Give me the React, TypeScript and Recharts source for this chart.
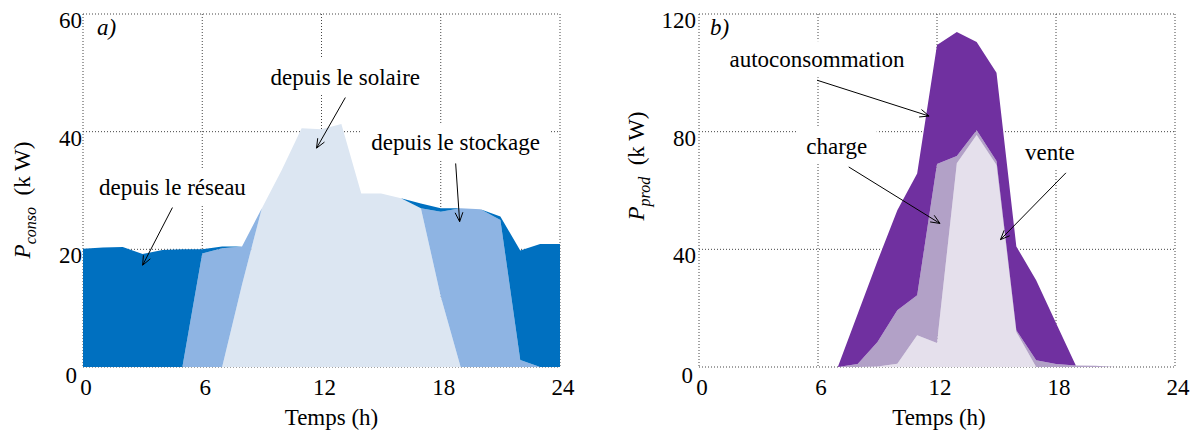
import { AreaChart, Area, XAxis, YAxis, CartesianGrid, ReferenceLine, ReferenceDot, Label } from 'recharts';

const FONT = "'Liberation Serif', 'Times New Roman', serif";

// hours of the day
const hours = [0, 1, 2, 3, 4, 5, 6, 7, 8, 9, 10, 11, 12, 13, 14, 15, 16, 17, 18, 19, 20, 21, 22, 23, 24];

// a) consumption (kW), stacked bottom -> top
const fromSolar = [0, 0, 0, 0, 0, 0, 0, 0, 14, 27, 33.5, 40.6, 40.4, 41.3, 29.5, 29.5, 28.7, 27, 12, 0, 0, 0, 0, 0, 0];
const fromStorage = [0, 0, 0, 0, 0, 0, 19.3, 20.2, 6.5, 0, 0, 0, 0, 0, 0, 0, 0, 0, 14.4, 27, 26.8, 25, 1.2, 0, 0];
const fromGrid = [20.1, 20.3, 20.4, 19.2, 19.9, 20, 0.7, 0.3, 0, 0, 0, 0, 0, 0, 0, 0, 0, 0.8, 0.6, 0, 0, 0.6, 18.6, 20.9, 20.9];

// b) production (kW), stacked bottom -> top
const selling = [0, 0, 0, 0, 0, 0, 0, 0, 0, 0.2, 1.1, 10.8, 8.2, 69.3, 78.9, 68.7, 11.9, 0, 0, 0, 0, 0, 0, 0, 0];
const charging = [0, 0, 0, 0, 0, 0, 0, 0, 1, 8.3, 18.2, 13.6, 60.8, 2.4, 1.6, 1.3, 0.6, 2.3, 1, 0.5, 0.4, 0, 0, 0, 0];
const selfUse = [0, 0, 0, 0, 0, 0, 0, 0, 17, 27.5, 34, 41.4, 40.5, 42.2, 30, 30, 28.5, 27.2, 14, 0, 0, 0, 0, 0, 0];

const xTicks = [0, 6, 12, 18, 24];
const consoTicks = [0, 20, 40, 60];
const prodTicks = [0, 40, 80, 120];

const consoData = hours.map((t, i) => ({ t, solaire: fromSolar[i], stockage: fromStorage[i], reseau: fromGrid[i] }));
const prodData = hours.map((t, i) => ({ t, vente: selling[i], charge: charging[i], auto: selfUse[i] }));

type Note = { text: string; from: [number, number]; to: [number, number]; dx: number; boxW: number };

const consoNotes: Note[] = [
  { text: 'depuis le réseau', from: [4.5, 27.1], to: [3.0, 17.3], dx: 0, boxW: 166 },
  { text: 'depuis le solaire', from: [13.2, 45.8], to: [11.75, 37.2], dx: 0, boxW: 172 },
  { text: 'depuis le stockage', from: [18.75, 34.6], to: [18.95, 24.7], dx: 0, boxW: 190 },
];

const prodNotes: Note[] = [
  { text: 'autoconsommation', from: [5.95, 97.5], to: [11.6, 85.3], dx: 0, boxW: 196 },
  { text: 'charge', from: [7.55, 68], to: [12.15, 48.8], dx: -12, boxW: 80 },
  { text: 'vente', from: [18.5, 66], to: [15.2, 43.3], dx: -16, boxW: 70 },
];

const arrowShape = (note: Note) => (p: any) => {
  const { x1, y1, x2, y2 } = p;
  const ang = Math.atan2(y2 - y1, x2 - x1);
  const L = 10;
  const a = 0.4;
  const hx1 = x2 - L * Math.cos(ang - a);
  const hy1 = y2 - L * Math.sin(ang - a);
  const hx2 = x2 - L * Math.cos(ang + a);
  const hy2 = y2 - L * Math.sin(ang + a);
  const tx = x1 + note.dx;
  const ty = y1 - 13;
  return (
    <g>
      <rect x={tx - note.boxW / 2} y={ty - 26} width={note.boxW} height={36} fill="#fff" />
      <text x={tx} y={ty} textAnchor="middle" fontSize={23} fontFamily={FONT} fill="#000">
        {note.text}
      </text>
      <line x1={x1} y1={y1} x2={x2} y2={y2} stroke="#000" strokeWidth={1} />
      <polyline points={`${hx1},${hy1} ${x2},${y2} ${hx2},${hy2}`} fill="none" stroke="#000" strokeWidth={1} />
    </g>
  );
};

const XTick = (p: any) => (
  <text x={p.x + 3} y={p.y + 28} textAnchor="middle" fontSize={23} fontFamily={FONT} fill="#000">
    {p.payload.value}
  </text>
);

const makeYTick = (gap: number) => (p: any) => {
  const zero = p.payload.value === 0;
  return (
    <text x={p.x - (zero ? 6 : gap)} y={p.y + (zero ? 16 : 14)} textAnchor="end" fontSize={23} fontFamily={FONT} fill="#000">
      {p.payload.value}
    </text>
  );
};

const xTitle = (shift: number) => (p: any) => {
  const vb = p.viewBox || { x: 0, width: 0 };
  return (
    <text x={vb.x + vb.width / 2 + shift} y={425} textAnchor="middle" fontSize={23} fontFamily={FONT} fill="#000">
      Temps (h)
    </text>
  );
};

const yTitle = (sub: string, cx: number, cy: number) => () => (
  <text
    x={cx}
    y={cy}
    transform={`rotate(-90 ${cx} ${cy})`}
    textAnchor="middle"
    fontSize={23}
    fontFamily={FONT}
    fill="#000"
  >
    <tspan fontStyle="italic">P</tspan>
    <tspan fontStyle="italic" fontSize={16} dy={6}>{sub}</tspan>
    <tspan dy={-6} xmlSpace="preserve">{'  (k W)'}</tspan>
  </text>
);

const panelTag = (tag: string, dx: number) => (p: any) => (
  <text x={p.cx + dx} y={p.cy + 21} fontSize={23} fontStyle="italic" fontFamily={FONT} fill="#000">
    {tag}
  </text>
);

const gridProps = { stroke: '#444', strokeDasharray: '1 2' };

export default function App() {
  return (
    <div style={{ position: 'absolute', left: 0, top: 0, width: 1199, height: 432, background: '#fff' }}>
      <div style={{ position: 'absolute', left: 0, top: 0 }}>
        <AreaChart width={600} height={432} data={consoData} margin={{ top: 14, right: 40, bottom: 0, left: 0 }}>
          <CartesianGrid {...gridProps} />
          <XAxis
            type="number"
            dataKey="t"
            domain={[0, 24]}
            ticks={xTicks}
            height={65}
            axisLine={false}
            tickLine={false}
            tickSize={0}
            tickMargin={0}
            tick={XTick}
            interval={0}
          >
            <Label content={xTitle(10)} />
          </XAxis>
          <YAxis
            type="number"
            domain={[0, 60]}
            ticks={consoTicks}
            width={83}
            axisLine={false}
            tickLine={false}
            tickSize={0}
            tickMargin={0}
            tick={makeYTick(1)}
            interval={0}
          >
            <Label content={yTitle('conso', 30, 200)} />
          </YAxis>
          <Area type="linear" dataKey="solaire" stackId="c" stroke="none" fill="#DCE6F2" fillOpacity={1} isAnimationActive={false} />
          <Area type="linear" dataKey="stockage" stackId="c" stroke="none" fill="#8EB4E3" fillOpacity={1} isAnimationActive={false} />
          <Area type="linear" dataKey="reseau" stackId="c" stroke="none" fill="#0070C0" fillOpacity={1} isAnimationActive={false} />
          {consoNotes.map((n) => (
            <ReferenceLine
              key={n.text}
              segment={[{ x: n.from[0], y: n.from[1] }, { x: n.to[0], y: n.to[1] }]}
              shape={arrowShape(n)}
            />
          ))}
          <ReferenceDot x={0} y={60} r={0} shape={panelTag('a)', 14)} />
        </AreaChart>
      </div>
      <div style={{ position: 'absolute', left: 600, top: 0 }}>
        <AreaChart width={599} height={432} data={prodData} margin={{ top: 14, right: 24, bottom: 0, left: 0 }}>
          <CartesianGrid {...gridProps} />
          <XAxis
            type="number"
            dataKey="t"
            domain={[0, 24]}
            ticks={xTicks}
            height={65}
            axisLine={false}
            tickLine={false}
            tickSize={0}
            tickMargin={0}
            tick={XTick}
            interval={0}
          >
            <Label content={xTitle(2)} />
          </XAxis>
          <YAxis
            type="number"
            domain={[0, 120]}
            ticks={prodTicks}
            width={99}
            axisLine={false}
            tickLine={false}
            tickSize={0}
            tickMargin={0}
            tick={makeYTick(3)}
            interval={0}
          >
            <Label content={yTitle('prod', 44, 166)} />
          </YAxis>
          <Area type="linear" dataKey="vente" stackId="p" stroke="none" fill="#E5E0EC" fillOpacity={1} isAnimationActive={false} />
          <Area type="linear" dataKey="charge" stackId="p" stroke="none" fill="#B2A1C7" fillOpacity={1} isAnimationActive={false} />
          <Area type="linear" dataKey="auto" stackId="p" stroke="none" fill="#7030A0" fillOpacity={1} isAnimationActive={false} />
          {prodNotes.map((n) => (
            <ReferenceLine
              key={n.text}
              segment={[{ x: n.from[0], y: n.from[1] }, { x: n.to[0], y: n.to[1] }]}
              shape={arrowShape(n)}
            />
          ))}
          <ReferenceDot x={0} y={120} r={0} shape={panelTag('b)', 11)} />
        </AreaChart>
      </div>
    </div>
  );
}
